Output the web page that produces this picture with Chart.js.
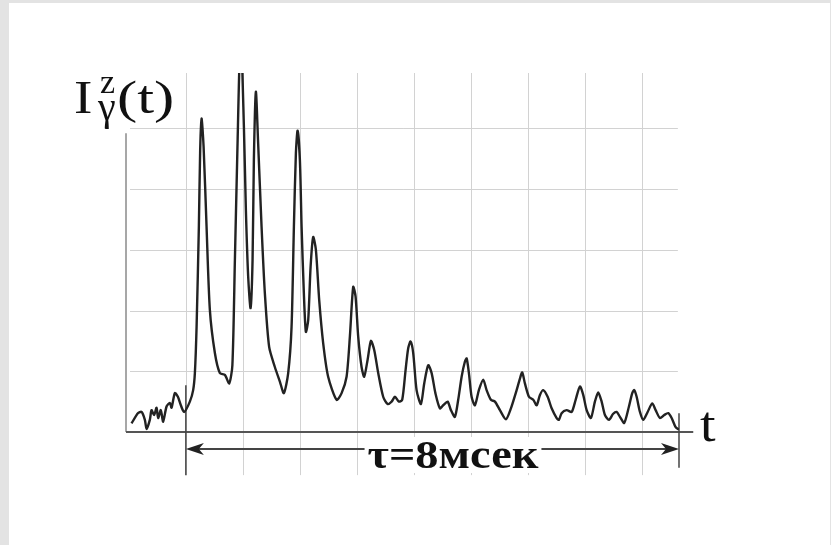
<!DOCTYPE html>
<html>
<head>
<meta charset="utf-8">
<script src="https://cdn.jsdelivr.net/npm/chart.js@4.4.1/dist/chart.umd.min.js"></script>
<style>
  html, body { margin: 0; padding: 0; background: #e3e3e3; }
  .panel { position: absolute; left: 9px; top: 3px; width: 821px; height: 542px; background: #fff; }
  .wrap { position: absolute; left: 0; top: 0; width: 831px; height: 545px; }
</style>
</head>
<body>
<div class="panel"></div>
<div class="wrap"><canvas id="myChart" width="831" height="545"></canvas></div>
<script>
// время в делениях сетки (1 деление ~ 57 px), интенсивность в делениях по вертикали
const tDiv = [
  0.047, 0.158, 0.223, 0.281, 0.311, 0.368, 0.398, 0.444, 0.486, 0.514,
  0.561, 0.602, 0.661, 0.719, 0.749, 0.807, 0.860, 0.912, 0.970, 1.070,
  1.128, 1.158, 1.188, 1.228, 1.251, 1.275, 1.311, 1.363, 1.421, 1.509,
  1.596, 1.684, 1.760, 1.816, 1.860, 1.900, 1.961, 2.018, 2.053, 2.093,
  2.135, 2.170, 2.193, 2.228, 2.268, 2.328, 2.386, 2.461, 2.561, 2.649,
  2.719, 2.795, 2.854, 2.895, 2.930, 2.960, 3.000, 3.030, 3.070, 3.105,
  3.146, 3.188, 3.233, 3.281, 3.339, 3.409, 3.496, 3.644, 3.732, 3.819,
  3.877, 3.935, 3.977, 4.023, 4.082, 4.128, 4.188, 4.246, 4.304, 4.374,
  4.461, 4.539, 4.609, 4.667, 4.737, 4.795, 4.854, 4.900, 4.942, 4.988,
  5.047, 5.123, 5.181, 5.251, 5.311, 5.377, 5.456, 5.514, 5.591, 5.649,
  5.719, 5.777, 5.837, 5.895, 5.925, 5.965, 6.012, 6.070, 6.140, 6.216,
  6.275, 6.351, 6.421, 6.509, 6.614, 6.702, 6.802, 6.860, 6.900, 6.947,
  7.018, 7.093, 7.153, 7.211, 7.268, 7.346, 7.416, 7.504, 7.544, 7.591,
  7.679, 7.767, 7.837, 7.912, 7.970, 8.030, 8.105, 8.175, 8.233, 8.293,
  8.351, 8.421, 8.496, 8.556, 8.614, 8.689, 8.772, 8.830, 8.865, 8.907,
  8.965, 9.023, 9.100, 9.181, 9.240, 9.316, 9.391, 9.461, 9.521, 9.591,
  9.649
];
const intensity = [
  0.14, 0.31, 0.33, 0.20, 0.05, 0.20, 0.36, 0.28, 0.40, 0.23,
  0.36, 0.17, 0.42, 0.48, 0.40, 0.64, 0.58, 0.44, 0.33, 0.50,
  0.69, 0.97, 1.73, 3.38, 4.64, 5.16, 4.70, 3.38, 2.01, 1.30,
  0.97, 0.94, 0.80, 1.10, 2.83, 4.48, 6.60, 5.03, 3.65, 2.56,
  2.04, 2.83, 4.48, 5.60, 4.75, 3.38, 2.28, 1.40, 1.07, 0.83,
  0.64, 0.97, 1.73, 3.38, 4.59, 4.96, 4.48, 3.38, 2.28, 1.65,
  1.84, 2.72, 3.21, 3.00, 2.17, 1.46, 0.91, 0.53, 0.64, 0.91,
  1.57, 2.39, 2.23, 1.57, 1.07, 0.91, 1.19, 1.50, 1.35, 0.97,
  0.58, 0.46, 0.50, 0.58, 0.50, 0.53, 1.02, 1.38, 1.49, 1.30,
  0.69, 0.46, 0.80, 1.10, 0.97, 0.64, 0.39, 0.44, 0.50, 0.36,
  0.25, 0.53, 0.91, 1.16, 1.21, 0.97, 0.58, 0.44, 0.69, 0.86,
  0.69, 0.53, 0.50, 0.36, 0.21, 0.39, 0.69, 0.88, 0.98, 0.80,
  0.58, 0.53, 0.44, 0.61, 0.69, 0.58, 0.39, 0.23, 0.20, 0.31,
  0.36, 0.33, 0.53, 0.75, 0.61, 0.36, 0.23, 0.50, 0.65, 0.50,
  0.28, 0.20, 0.30, 0.33, 0.25, 0.15, 0.42, 0.64, 0.69, 0.58,
  0.33, 0.20, 0.33, 0.47, 0.36, 0.23, 0.28, 0.31, 0.23, 0.08,
  0.04
];
const xGrid = [1, 2, 3, 4, 5, 6, 7, 8, 9];
const yGrid = [1, 2, 3, 4, 5];
const tauStart = 1, tauEnd = 9.65;
const tauLabel = 'τ=8мсек';

const points = tDiv.map((t, i) => ({ x: t, y: intensity[i] }));

// текст, растянутый по горизонтали
function wideText(ctx, txt, x, y, sx) {
  ctx.save();
  ctx.translate(x, y);
  ctx.scale(sx, 1);
  ctx.fillText(txt, 0, 0);
  ctx.restore();
}

// сетка, оси, стрелка и подписи
const decor = {
  id: 'decor',
  beforeDatasetsDraw(chart) {
    const ctx = chart.ctx;
    const xs = chart.scales.x, ys = chart.scales.y;
    const top = chart.chartArea.top;
    ctx.save();
    ctx.strokeStyle = '#d2d2d2';
    ctx.lineWidth = 1;
    yGrid.forEach(v => {
      const y = Math.round(ys.getPixelForValue(v)) + 0.5;
      ctx.beginPath();
      ctx.moveTo(xs.getPixelForValue(0.02), y);
      ctx.lineTo(xs.getPixelForValue(9.63), y);
      ctx.stroke();
    });
    xGrid.forEach(v => {
      const x = Math.round(xs.getPixelForValue(v)) + 0.5;
      ctx.beginPath();
      ctx.moveTo(x, top);
      ctx.lineTo(x, ys.getPixelForValue(-0.71));
      ctx.stroke();
    });

    // оси
    const x0 = xs.getPixelForValue(-0.05);
    const y0 = ys.getPixelForValue(0);
    ctx.strokeStyle = '#8a8a8a';
    ctx.lineWidth = 1.5;
    ctx.beginPath();
    ctx.moveTo(x0, ys.getPixelForValue(4.92));
    ctx.lineTo(x0, y0);
    ctx.stroke();
    ctx.strokeStyle = '#555';
    ctx.lineWidth = 2;
    ctx.beginPath();
    ctx.moveTo(x0, y0);
    ctx.lineTo(xs.getPixelForValue(9.9), y0);
    ctx.stroke();

    // стрелка τ
    const xa = xs.getPixelForValue(tauStart), xb = xs.getPixelForValue(tauEnd);
    const ya = ys.getPixelForValue(-0.28);
    ctx.strokeStyle = '#444';
    ctx.lineWidth = 1.5;
    ctx.beginPath();
    ctx.moveTo(xa, ys.getPixelForValue(0.77));
    ctx.lineTo(xa, ys.getPixelForValue(-0.71));
    ctx.moveTo(xb, ys.getPixelForValue(0.31));
    ctx.lineTo(xb, ys.getPixelForValue(-0.59));
    ctx.stroke();
    ctx.lineWidth = 2;
    ctx.beginPath();
    ctx.moveTo(xa + 4, ya);
    ctx.lineTo(xb - 4, ya);
    ctx.stroke();
    ctx.fillStyle = '#222';
    ctx.beginPath();
    ctx.moveTo(xa, ya);
    ctx.lineTo(xa + 18, ya - 6);
    ctx.lineTo(xa + 13, ya);
    ctx.lineTo(xa + 18, ya + 6);
    ctx.closePath();
    ctx.fill();
    ctx.beginPath();
    ctx.moveTo(xb, ya);
    ctx.lineTo(xb - 18, ya - 6);
    ctx.lineTo(xb - 13, ya);
    ctx.lineTo(xb - 18, ya + 6);
    ctx.closePath();
    ctx.fill();

    ctx.font = 'bold 41px "Liberation Serif"';
    const tw = ctx.measureText(tauLabel).width * 1.13;
    const xm = 453;
    ctx.fillStyle = '#fff';
    ctx.fillRect(xm - tw / 2 - 3, 437, tw + 6, 36);
    ctx.fillStyle = '#111';
    ctx.textBaseline = 'alphabetic';
    ctx.textAlign = 'left';
    wideText(ctx, tauLabel, xm - tw / 2, 468, 1.13);

    // подписи осей
    ctx.font = '46px "Liberation Serif"';
    wideText(ctx, 'I', 74, 113, 1.2);
    wideText(ctx, '(t)', 117, 113, 1.32);
    ctx.font = '34px "Liberation Serif"';
    ctx.fillText('z', 100, 93);
    ctx.font = '40px "Liberation Serif"';
    ctx.fillText('γ', 98, 120);
    ctx.font = '50px "Liberation Serif"';
    wideText(ctx, 't', 700, 441, 1.12);
    ctx.restore();
  }
};

const ctx = document.getElementById('myChart').getContext('2d');
const myChart = new Chart(ctx, {
  type: 'line',
  data: {
    datasets: [{
      data: points,
      borderColor: '#222',
      borderWidth: 2.4,
      pointRadius: 0,
      tension: 0.25,
      fill: false
    }]
  },
  options: {
    responsive: false,
    animation: false,
    layout: { padding: { left: 126, right: 152, top: 73, bottom: 113 } },
    plugins: { legend: { display: false }, tooltip: { enabled: false } },
    scales: {
      x: { type: 'linear', min: -0.05, max: 9.65, display: false },
      y: { type: 'linear', min: 0, max: 5.91, display: false }
    }
  },
  plugins: [decor]
});
</script>
</body>
</html>
